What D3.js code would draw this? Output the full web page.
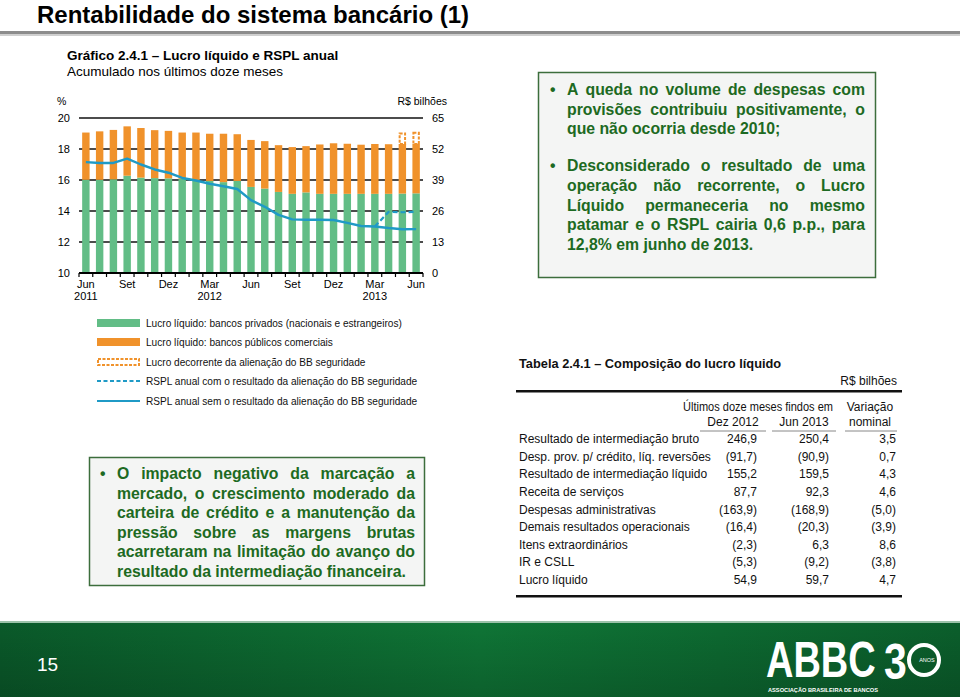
<!DOCTYPE html>
<html><head><meta charset="utf-8">
<script src="https://cdn.jsdelivr.net/npm/d3@7/dist/d3.min.js"></script>
<style>
html,body{margin:0;padding:0;background:#fff;}
svg{display:block;font-family:Arial,"Liberation Sans",sans-serif;}
</style></head>
<body>
<svg id="c" width="960" height="697"></svg>
<script>
// ---------- DATA ----------
const months = ["Jun 2011","Jul 2011","Ago 2011","Set 2011","Out 2011","Nov 2011","Dez 2011","Jan 2012","Fev 2012","Mar 2012","Abr 2012","Mai 2012","Jun 2012","Jul 2012","Ago 2012","Set 2012","Out 2012","Nov 2012","Dez 2012","Jan 2013","Fev 2013","Mar 2013","Abr 2013","Mai 2013","Jun 2013"];
const privados = [39.1,39.1,39.3,40.8,40.0,39.8,39.7,39.5,39.0,38.6,38.1,38.6,36.1,35.4,34.0,33.2,33.8,33.2,33.2,33.2,33.2,33.2,33.2,33.3,33.4];
const publicos = [19.8,20.3,20.7,20.7,20.8,20.1,19.9,19.4,19.9,19.8,20.3,19.6,19.7,19.9,19.6,19.6,19.4,20.7,21.2,21.0,20.6,20.9,20.8,20.8,20.7];
const alienacao = [0,0,0,0,0,0,0,0,0,0,0,0,0,0,0,0,0,0,0,0,0,0,0,4.8,5.1];
const rsplSem = [17.15,17.1,17.1,17.38,17.0,16.68,16.47,16.13,15.97,15.76,15.6,15.42,14.7,14.27,13.75,13.46,13.44,13.44,13.42,13.23,13.03,13.0,12.9,12.82,12.83];
const rsplCom = [null,null,null,null,null,null,null,null,null,null,null,null,null,null,null,null,null,null,null,null,null,13.0,13.94,13.92,13.95];
const tickIdx = [0,3,6,9,12,15,18,21,24];
const tickLabels = [["Jun","2011"],["Set"],["Dez"],["Mar","2012"],["Jun"],["Set"],["Dez"],["Mar","2013"],["Jun"]];
const leftTicks = [10,12,14,16,18,20];
const rightTicks = [0,13,26,39,52,65];
const legendLabels = ["Lucro líquido: bancos privados (nacionais e estrangeiros)","Lucro líquido: bancos públicos comerciais","Lucro decorrente da alienação do BB seguridade","RSPL anual com o resultado da alienação do BB seguridade","RSPL anual sem o resultado da alienação do BB seguridade"];

const tableRows = ["Resultado de intermediação bruto","Desp. prov. p/ crédito, líq. reversões","Resultado de intermediação líquido","Receita de serviços","Despesas administrativas","Demais resultados operacionais","Itens extraordinários","IR e CSLL","Lucro líquido"];
const colDez2012 = ["246,9","(91,7)","155,2","87,7","(163,9)","(16,4)","(2,3)","(5,3)","54,9"];
const colJun2013 = ["250,4","(90,9)","159,5","92,3","(168,9)","(20,3)","6,3","(9,2)","59,7"];
const colVar = ["3,5","0,7","4,3","4,6","(5,0)","(3,9)","8,6","(3,8)","4,7"];

const box1 = [
 {t:"A queda no volume de despesas com", j:true, bullet:true},
 {t:"provisões contribuiu positivamente, o", j:true},
 {t:"que não ocorria desde 2010;", j:false},
 {t:"Desconsiderado o resultado de uma", j:true, bullet:true, gap:true},
 {t:"operação não recorrente, o Lucro", j:true},
 {t:"Líquido permaneceria no mesmo", j:true},
 {t:"patamar e o RSPL cairia 0,6 p.p., para", j:true},
 {t:"12,8% em junho de 2013.", j:false}
];
const box2 = [
 {t:"O impacto negativo da marcação a", j:true, bullet:true},
 {t:"mercado, o crescimento moderado da", j:true},
 {t:"carteira de crédito e a manutenção da", j:true},
 {t:"pressão sobre as margens brutas", j:true},
 {t:"acarretaram na limitação do avanço do", j:true},
 {t:"resultado da intermediação financeira.", j:false}
];

// ---------- COLORS ----------
const GREEN = "#62bd86", ORANGE = "#f0922b", BLUE = "#1f9ac6", TXTGREEN = "#1d6a22";

const svg = d3.select("#c");
const defs = svg.append("defs");

// ---------- PAGE TITLE ----------
svg.append("text").attr("x",37).attr("y",23).attr("font-size",24).attr("font-weight","bold").attr("fill","#000")
  .text("Rentabilidade do sistema bancário (1)");
svg.append("rect").attr("x",0).attr("y",31).attr("width",960).attr("height",3).attr("fill","#8c8c8c");
svg.append("rect").attr("x",0).attr("y",34).attr("width",960).attr("height",2).attr("fill","#cfcfcf");

// ---------- CHART ----------
const x = d3.scaleBand().domain(d3.range(months.length)).range([79,423]).paddingInner(0.46).paddingOuter(0.23);
const yL = d3.scaleLinear().domain([10,20]).range([273,118]);
const yR = d3.scaleLinear().domain([0,65]).range([273,118]);

const ch = svg.append("g");
ch.append("text").attr("x",67).attr("y",60).attr("font-size",13.5).attr("font-weight","bold").text("Gráfico 2.4.1 – Lucro líquido e RSPL anual");
ch.append("text").attr("x",67).attr("y",76).attr("font-size",13.5).text("Acumulado nos últimos doze meses");
ch.append("text").attr("x",57).attr("y",105).attr("font-size",10.5).text("%");
ch.append("text").attr("x",447).attr("y",105).attr("font-size",10.5).attr("text-anchor","end").text("R$ bilhões");

// gridlines
ch.selectAll(".grid").data(leftTicks.filter(d=>d>10)).enter().append("line")
  .attr("x1",79).attr("x2",423).attr("y1",d=>yL(d)).attr("y2",d=>yL(d))
  .attr("stroke","#111").attr("stroke-width",d=>d===20?1.6:1.3);

// left & right tick labels
ch.selectAll(".lt").data(leftTicks).enter().append("text")
  .attr("x",70).attr("y",d=>yL(d)+4).attr("text-anchor","end").attr("font-size",11).text(d=>d);
ch.selectAll(".rt").data(rightTicks).enter().append("text")
  .attr("x",432).attr("y",d=>yR(d)+4).attr("font-size",11).text(d=>d);

// bars
const bw = x.bandwidth();
ch.selectAll(".bp").data(privados).enter().append("rect")
  .attr("x",(d,i)=>x(i)).attr("width",bw).attr("y",d=>yR(d)).attr("height",d=>yR(0)-yR(d)).attr("fill",GREEN);
ch.selectAll(".bq").data(publicos).enter().append("rect")
  .attr("x",(d,i)=>x(i)).attr("width",bw).attr("y",(d,i)=>yR(privados[i]+d)).attr("height",(d,i)=>yR(privados[i])-yR(privados[i]+d)).attr("fill",ORANGE);
ch.selectAll(".ba").data(alienacao.map((v,i)=>({v,i})).filter(o=>o.v>0)).enter().append("rect")
  .attr("x",o=>x(o.i)+1).attr("width",bw-2)
  .attr("y",o=>yR(privados[o.i]+publicos[o.i]+o.v)+1)
  .attr("height",o=>yR(privados[o.i]+publicos[o.i])-yR(privados[o.i]+publicos[o.i]+o.v)-1)
  .attr("fill","#fff").attr("stroke",ORANGE).attr("stroke-width",2).attr("stroke-dasharray","3,1.5");

// lines
const lineGen = d3.line().defined(d=>d!=null).x((d,i)=>x(i)+bw/2).y(d=>yL(d));
ch.append("path").attr("d",lineGen(rsplCom)).attr("fill","none").attr("stroke",BLUE).attr("stroke-width",2.2).attr("stroke-dasharray","5,3");
ch.append("path").attr("d",lineGen(rsplSem)).attr("fill","none").attr("stroke",BLUE).attr("stroke-width",2.4).attr("stroke-linejoin","round");

// x axis
ch.append("line").attr("x1",79).attr("x2",423).attr("y1",273).attr("y2",273).attr("stroke","#000").attr("stroke-width",2);
const bounds = d3.range(months.length+1).map(i=> i<months.length ? x(i)-x.step()*x.paddingInner()/2 : x(months.length-1)+bw+x.step()*x.paddingInner()/2);
ch.selectAll(".xt").data(bounds).enter().append("line")
  .attr("x1",d=>d).attr("x2",d=>d).attr("y1",273).attr("y2",277).attr("stroke","#000").attr("stroke-width",1.2);
tickIdx.forEach((idx,k)=>{
  const t = ch.append("text").attr("text-anchor","middle").attr("font-size",11);
  tickLabels[k].forEach((s,j)=>t.append("tspan").attr("x",x(idx)+bw/2).attr("y",288+j*12).text(s));
});

// legend
const lg = svg.append("g");
const ly = [323,342,362,381,401];
lg.append("rect").attr("x",97).attr("y",ly[0]-4).attr("width",43).attr("height",8).attr("fill",GREEN);
lg.append("rect").attr("x",97).attr("y",ly[1]-4).attr("width",43).attr("height",8).attr("fill",ORANGE);
lg.append("rect").attr("x",98).attr("y",ly[2]-3).attr("width",41).attr("height",6).attr("fill","#fff").attr("stroke",ORANGE).attr("stroke-width",2).attr("stroke-dasharray","3,1.5");
lg.append("line").attr("x1",97).attr("x2",140).attr("y1",ly[3]).attr("y2",ly[3]).attr("stroke",BLUE).attr("stroke-width",2).attr("stroke-dasharray","4,2.5");
lg.append("line").attr("x1",97).attr("x2",140).attr("y1",ly[4]).attr("y2",ly[4]).attr("stroke",BLUE).attr("stroke-width",2.2);
lg.selectAll(".lt").data(legendLabels).enter().append("text")
  .attr("x",146).attr("y",(d,i)=>ly[i]+4).attr("font-size",10.1).attr("fill","#111").text(d=>d);

// ---------- TEXT BOXES ----------
function justified(g, lines, x0, x1, y0, lh, fs, bulletX){
  let y = y0;
  lines.forEach((ln,i)=>{
    if(i>0) y += lh + (ln.gap? lh*0.9 : 0);
    if(ln.bullet) g.append("text").attr("x",bulletX).attr("y",y).attr("font-size",fs).attr("font-weight","bold").attr("fill",TXTGREEN).text("•");
    const t = g.append("text").attr("y",y).attr("font-size",fs).attr("font-weight","bold").attr("fill",TXTGREEN);
    if(!ln.j){ t.attr("x",x0).text(ln.t); return; }
    const words = ln.t.split(/\s+/);
    const widths = words.map(w=>{ const s=t.append("tspan").text(w); const wd=s.node().getComputedTextLength(); s.remove(); return wd; });
    let gap = (x1-x0-d3.sum(widths))/(words.length-1);
    if(gap < fs*0.2){
      t.attr("x",x0).attr("textLength",x1-x0).attr("lengthAdjust","spacingAndGlyphs").text(ln.t);
      return;
    }
    let xx = x0;
    words.forEach((w,k)=>{ t.append("tspan").attr("x",xx).text(w); xx += widths[k]+gap; });
  });
}
const b1 = svg.append("g");
b1.append("rect").attr("x",538.5).attr("y",72.5).attr("width",337).attr("height",205).attr("fill","#f4f5f4").attr("stroke","#3c6e3c").attr("stroke-width",1.5);
justified(b1, box1, 567, 865, 95, 19.6, 15.8, 550);

const b2 = svg.append("g");
b2.append("rect").attr("x",89.5).attr("y",457.5).attr("width",335).attr("height",128).attr("fill","#f4f5f4").attr("stroke","#3c6e3c").attr("stroke-width",1.5);
justified(b2, box2, 117, 415, 479, 19.5, 15.8, 100);

// ---------- TABLE ----------
const tb = svg.append("g").attr("fill","#111");
tb.append("text").attr("x",519).attr("y",368).attr("font-size",12.8).attr("font-weight","bold").text("Tabela 2.4.1 – Composição do lucro líquido");
tb.append("text").attr("x",897).attr("y",385).attr("font-size",12).attr("text-anchor","end").text("R$ bilhões");
tb.append("rect").attr("x",516).attr("y",390).attr("width",386).attr("height",2.5).attr("fill","#111");
tb.append("text").attr("x",683).attr("y",411).attr("font-size",12).attr("textLength",150).attr("lengthAdjust","spacingAndGlyphs").text("Últimos doze meses findos em");
tb.append("text").attr("x",870).attr("y",411).attr("font-size",12).attr("text-anchor","middle").text("Variação");
tb.append("text").attr("x",870).attr("y",426).attr("font-size",12).attr("text-anchor","middle").text("nominal");
tb.append("text").attr("x",733).attr("y",426).attr("font-size",12).attr("text-anchor","middle").text("Dez 2012");
tb.append("text").attr("x",804).attr("y",426).attr("font-size",12).attr("text-anchor","middle").text("Jun 2013");
[[700,766],[772,836],[845,897]].forEach(s=>tb.append("line").attr("x1",s[0]).attr("x2",s[1]).attr("y1",431).attr("y2",431).attr("stroke","#888").attr("stroke-width",1));
const rowY = d3.scaleLinear().domain([0,8]).range([443,584]);
tableRows.forEach((r,i)=>{
  tb.append("text").attr("x",519).attr("y",rowY(i)).attr("font-size",12).text(r);
  tb.append("text").attr("x",757).attr("y",rowY(i)).attr("font-size",12).attr("text-anchor","end").text(colDez2012[i]);
  tb.append("text").attr("x",829).attr("y",rowY(i)).attr("font-size",12).attr("text-anchor","end").text(colJun2013[i]);
  tb.append("text").attr("x",896).attr("y",rowY(i)).attr("font-size",12).attr("text-anchor","end").text(colVar[i]);
});
tb.append("rect").attr("x",516).attr("y",595).attr("width",386).attr("height",2.5).attr("fill","#111");

// ---------- FOOTER ----------
const fg = defs.append("linearGradient").attr("id","fg").attr("x1","0").attr("x2","1").attr("y1","0").attr("y2","0");
fg.append("stop").attr("offset","0").attr("stop-color","#0a5a2a");
fg.append("stop").attr("offset","0.5").attr("stop-color","#0f7536");
fg.append("stop").attr("offset","1").attr("stop-color","#0b5f2c");
const fv = defs.append("linearGradient").attr("id","fv").attr("x1","0").attr("x2","0").attr("y1","0").attr("y2","1");
fv.append("stop").attr("offset","0").attr("stop-color","#000").attr("stop-opacity",0);
fv.append("stop").attr("offset","1").attr("stop-color","#000").attr("stop-opacity",0.18);
svg.append("rect").attr("x",0).attr("y",622).attr("width",960).attr("height",75).attr("fill","url(#fg)");
svg.append("rect").attr("x",0).attr("y",622).attr("width",960).attr("height",75).attr("fill","url(#fv)");
svg.append("rect").attr("x",0).attr("y",621).attr("width",960).attr("height",2).attr("fill","#9cc3aa");
svg.append("text").attr("x",37).attr("y",671).attr("font-size",19).attr("fill","#fff").text("15");
const logo = svg.append("g").attr("fill","#fff");
logo.append("text").attr("transform","translate(766,677) scale(0.76,1)").attr("font-size",50).attr("font-weight","bold")
  .attr("font-family","'Liberation Sans',Arial,sans-serif").text("ABBC");
logo.append("text").attr("transform","translate(884,679) scale(0.82,1)").attr("font-size",50).attr("font-weight","bold")
  .attr("font-family","'Liberation Sans',Arial,sans-serif").text("3");
logo.append("circle").attr("cx",924).attr("cy",660).attr("r",15).attr("fill","none").attr("stroke","#fff").attr("stroke-width",4);
logo.append("text").attr("x",927).attr("y",662).attr("font-size",5.5).attr("text-anchor","middle").text("ANOS");
logo.append("text").attr("x",768).attr("y",692).attr("font-size",6).attr("font-weight","bold")
  .attr("textLength",110).attr("lengthAdjust","spacingAndGlyphs").text("ASSOCIAÇÃO BRASILEIRA DE BANCOS");
</script>
</body></html>
